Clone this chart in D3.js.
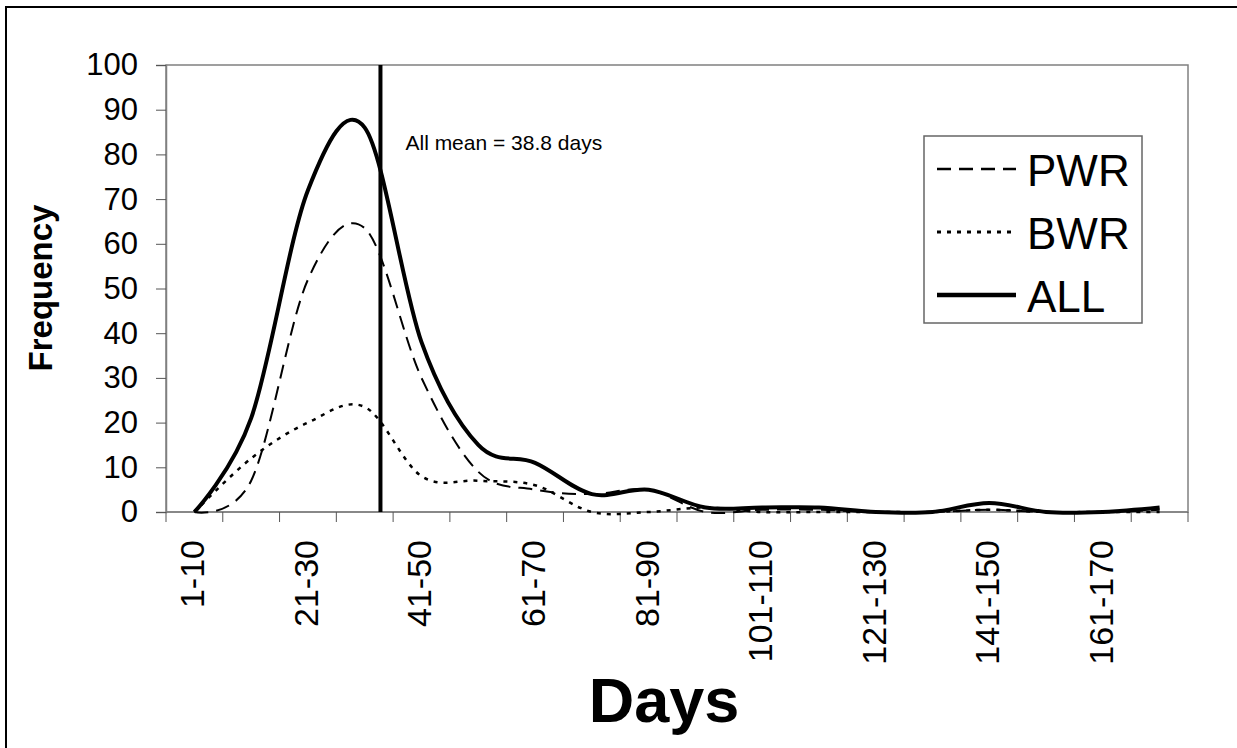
<!DOCTYPE html>
<html>
<head>
<meta charset="utf-8">
<script src="https://cdn.jsdelivr.net/npm/d3@7"></script>
<style>
  body { margin: 0; background: #fff; }
  svg { display: block; font-family: "Liberation Sans", Arial, sans-serif; }
</style>
</head>
<body>
<div id="chart"></div>
<script>
// categories (10 day bins)
const categories = ["1-10", "11-20", "21-30", "31-40", "41-50", "51-60", "61-70", "71-80", "81-90",
  "91-100", "101-110", "111-120", "121-130", "131-140", "141-150", "151-160", "161-170", "171-180"];

// frequencies
const pwrValues = [0, 7, 52, 63.5, 30, 9, 5, 4, 5, 0, 0.5, 0.5, 0, 0, 0.5, 0, 0, 0.5];
const bwrValues = [0, 12, 20, 23.5, 8, 7, 6, 0, 0, 1, 0, 0, 0, 0, 0.5, 0, 0, 0];
const allValues = [0, 21, 72, 86, 38, 15, 11, 4, 5, 1, 1, 1, 0, 0, 2, 0, 0, 1];

const yTicks = [0, 10, 20, 30, 40, 50, 60, 70, 80, 90, 100];
const meanDays = 38.8;

const W = 1237, H = 748;
const margin = {top: 65, right: 49, bottom: 236, left: 166};
const width = W - margin.left - margin.right,
      height = H - margin.top - margin.bottom;

const svg = d3.select("#chart").append("svg")
  .attr("width", W)
  .attr("height", H);

// outer chart border (only top / left visible in the picture)
svg.append("rect")
  .attr("x", 6).attr("y", 7)
  .attr("width", W + 20).attr("height", H + 20)
  .attr("fill", "none").attr("stroke", "#000").attr("stroke-width", 2);

const g = svg.append("g").attr("transform", `translate(${margin.left},${margin.top})`);

const x = d3.scaleBand().domain(categories).range([0, width]);
const xc = d => x(d) + x.bandwidth() / 2;
// linear day scale for the mean line (bins centred on x.5 days)
const xDays = d3.scaleLinear().domain([0.5, 180.5]).range([0, width]);
const y = d3.scaleLinear().domain([0, 100]).range([height, 0]);

// plot area border
g.append("rect")
  .attr("x", 0).attr("y", 0).attr("width", width).attr("height", height)
  .attr("fill", "none").attr("stroke", "#808080").attr("stroke-width", 1.5);

// y axis
const yAxis = g.append("g")
  .call(d3.axisLeft(y).tickValues(yTicks).tickSize(10).tickPadding(18));
yAxis.select(".domain").attr("stroke", "#808080").attr("stroke-width", 1.5);
yAxis.selectAll(".tick line").attr("stroke", "#555");
yAxis.selectAll("text")
  .attr("font-size", "31px")
  .attr("font-family", "Liberation Sans, Arial, sans-serif")
  .attr("fill", "#000");

// x axis: ticks on the bin boundaries, labels on every other bin
const xAxis = g.append("g").attr("transform", `translate(0,${height})`);
xAxis.append("line")
  .attr("x1", 0).attr("x2", width)
  .attr("stroke", "#808080").attr("stroke-width", 1.5);
xAxis.selectAll(".xtick")
  .data(categories.concat(["end"]))
  .join("line")
    .attr("class", "xtick")
    .attr("x1", (d, i) => i * x.step())
    .attr("x2", (d, i) => i * x.step())
    .attr("y1", 0).attr("y2", 10)
    .attr("stroke", "#555");
xAxis.selectAll(".xlabel")
  .data(categories.filter((d, i) => i % 2 === 0))
  .join("text")
    .attr("class", "xlabel")
    .attr("transform", d => `translate(${xc(d) - 2},28) rotate(-90)`)
    .attr("text-anchor", "end")
    .attr("dy", "0.35em")
    .attr("font-size", "34px")
    .text(d => d);

// series lines (Excel style smoothing)
const line = d3.line()
  .x((d, i) => xc(categories[i]))
  .y(d => y(d))
  .curve(d3.curveCardinal.tension(0));

const series = [
  {name: "PWR", values: pwrValues, width: 2, dash: "14,8"},
  {name: "BWR", values: bwrValues, width: 2.5, dash: "4,6"},
  {name: "ALL", values: allValues, width: 4, dash: null}
];

series.forEach(s => {
  g.append("path")
    .datum(s.values)
    .attr("d", line)
    .attr("fill", "none")
    .attr("stroke", "#000")
    .attr("stroke-width", s.width)
    .attr("stroke-dasharray", s.dash);
});

// mean line
g.append("line")
  .attr("x1", xDays(meanDays) - 3).attr("x2", xDays(meanDays) - 3)
  .attr("y1", 0).attr("y2", height)
  .attr("stroke", "#000").attr("stroke-width", 4);

g.append("text")
  .attr("x", xDays(meanDays) + 22)
  .attr("y", y(81))
  .attr("font-size", "21px")
  .text("All mean = " + meanDays + " days");

// legend
const legend = svg.append("g").attr("transform", "translate(924,136)");
legend.append("rect")
  .attr("width", 218).attr("height", 187)
  .attr("fill", "#fff").attr("stroke", "#666").attr("stroke-width", 1.5);
series.forEach((s, i) => {
  const ly = 33 + i * 63;
  legend.append("line")
    .attr("x1", 13).attr("x2", 92)
    .attr("y1", ly).attr("y2", ly)
    .attr("stroke", "#000")
    .attr("stroke-width", s.width + 0.5)
    .attr("stroke-dasharray", s.dash);
  legend.append("text")
    .attr("x", 103).attr("y", ly + 17)
    .attr("font-size", "44px")
    .text(s.name);
});

// axis titles
svg.append("text")
  .attr("x", 664).attr("y", 722)
  .attr("text-anchor", "middle")
  .attr("font-size", "63px")
  .attr("font-weight", "bold")
  .text("Days");

svg.append("text")
  .attr("transform", "translate(52,288) rotate(-90)")
  .attr("text-anchor", "middle")
  .attr("font-size", "33px")
  .attr("font-weight", "bold")
  .text("Frequency");
</script>
</body>
</html>
